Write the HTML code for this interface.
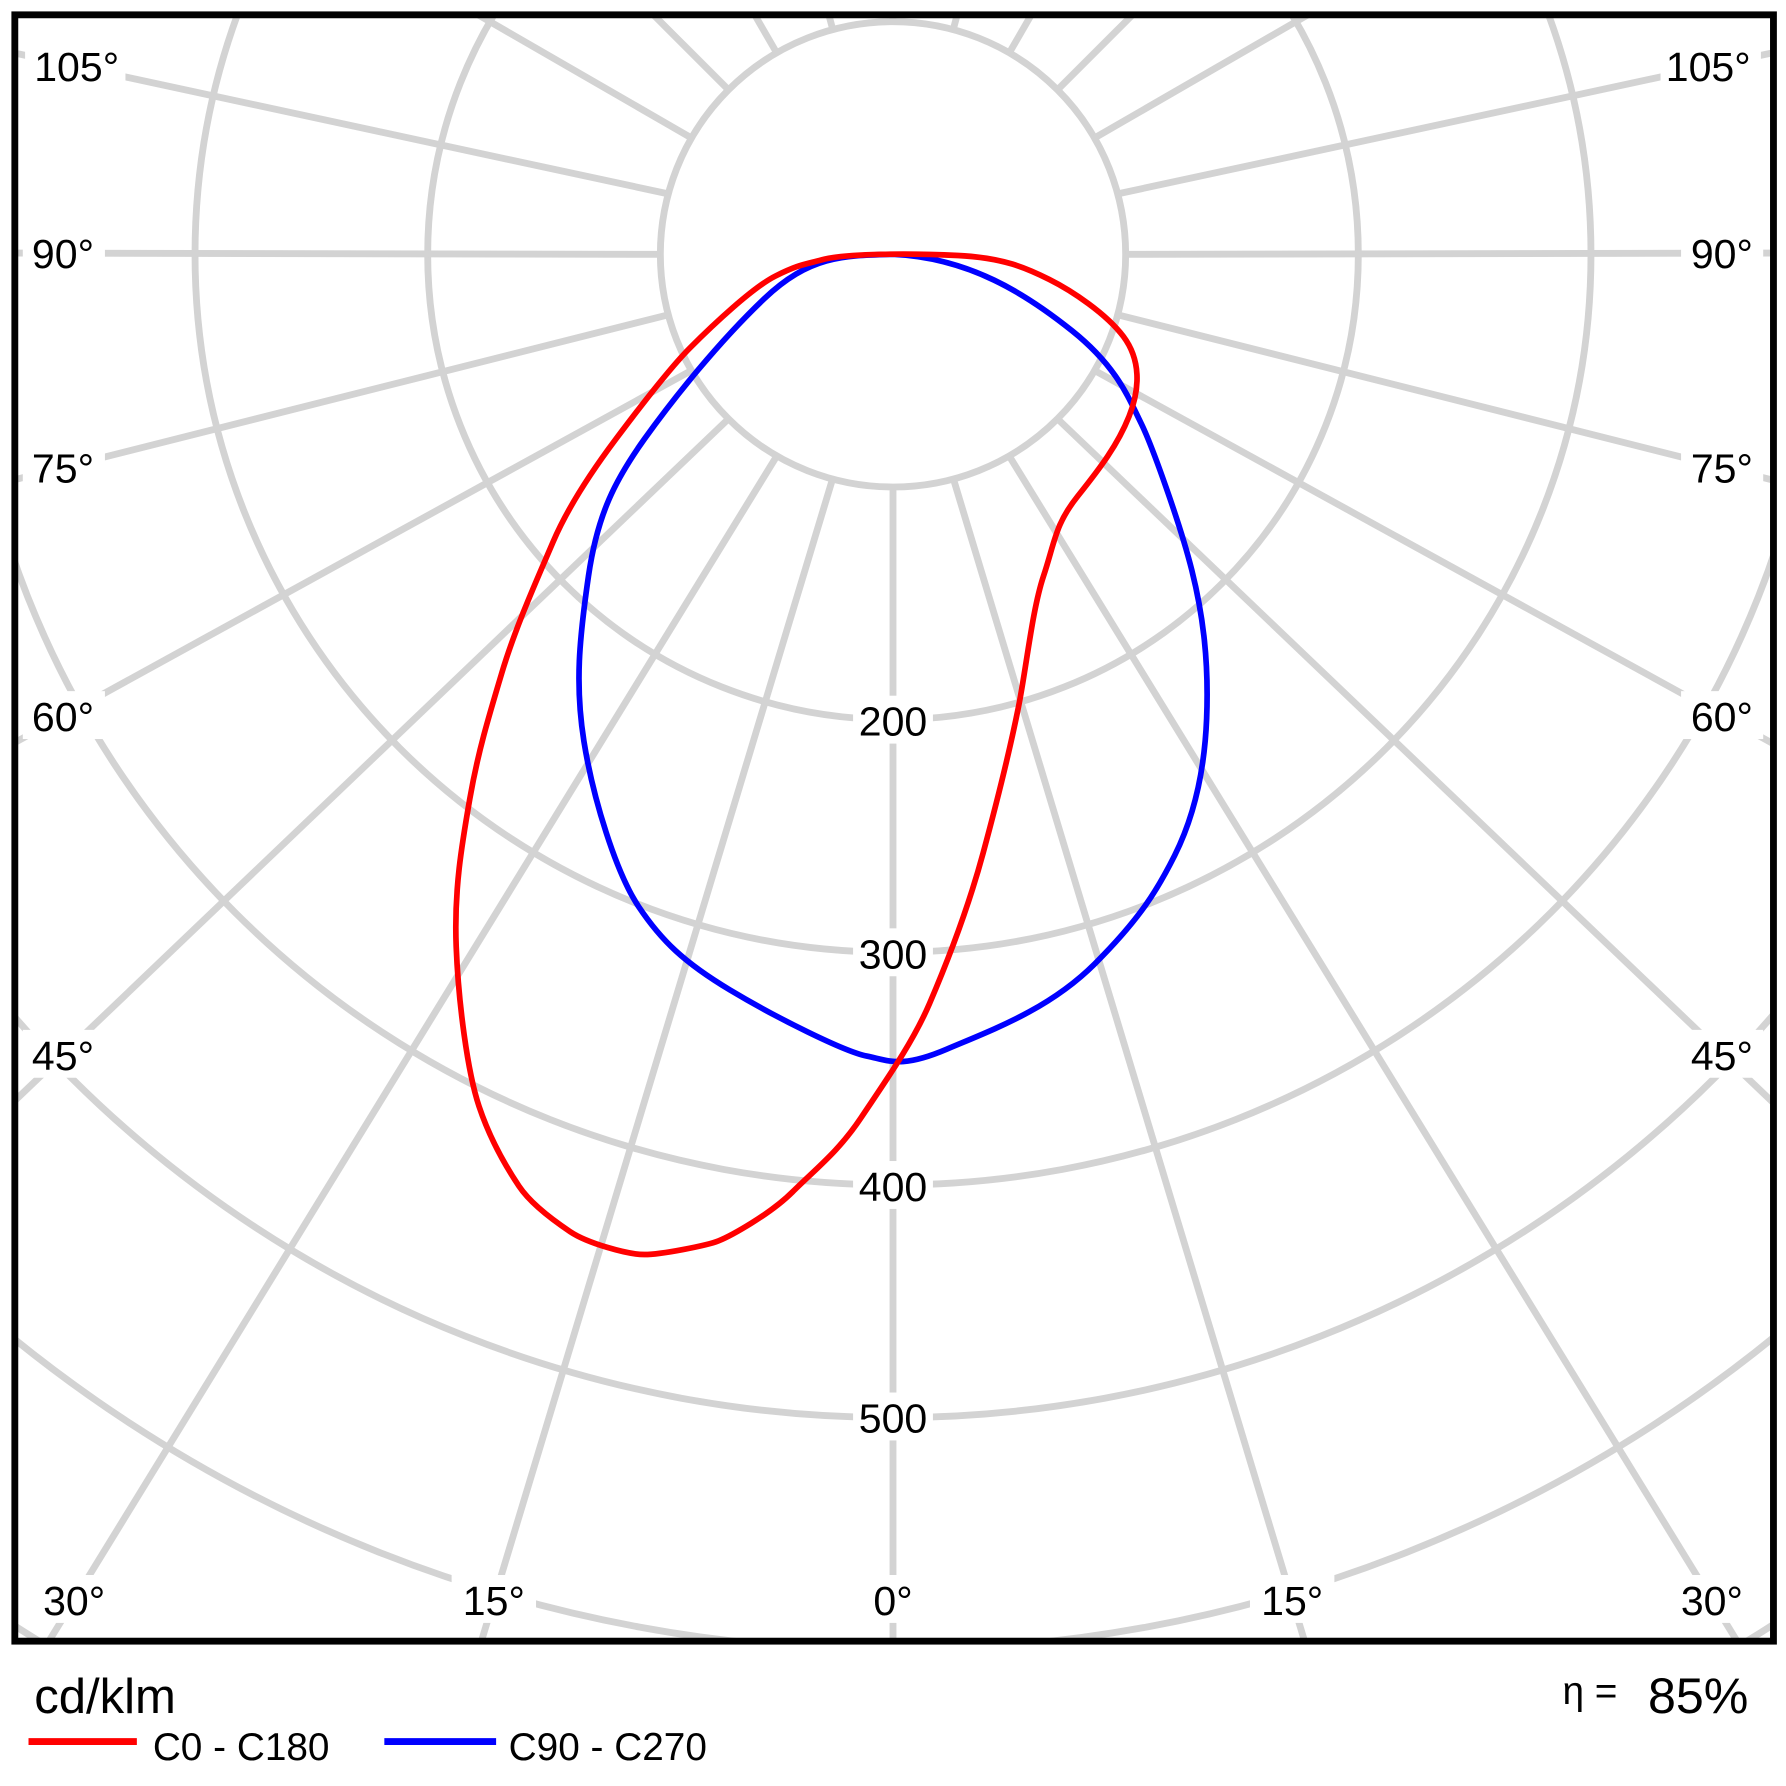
<!DOCTYPE html>
<html><head><meta charset="utf-8"><style>html,body{margin:0;padding:0;background:#fff;overflow:hidden;width:1786px;height:1786px}svg{display:block}</style></head>
<body><svg width="1786" height="1786" viewBox="0 0 1566 1566" xmlns="http://www.w3.org/2000/svg" font-family="'Liberation Sans',sans-serif">
<defs><clipPath id="c"><rect x="13" y="13" width="1542" height="1426"/></clipPath></defs>
<rect width="1566" height="1566" fill="#fff"/>
<g clip-path="url(#c)" stroke="#d3d3d3" stroke-width="6" fill="none">
<circle cx="783" cy="223" r="204"/>
<circle cx="783" cy="223" r="408"/>
<circle cx="783" cy="223" r="612"/>
<circle cx="783" cy="223" r="816"/>
<circle cx="783" cy="223" r="1020"/>
<circle cx="783" cy="223" r="1224"/>
<circle cx="783" cy="223" r="1428"/>
<line x1="783" y1="427" x2="783" y2="2500"/>
<line x1="586" y1="170" x2="-454" y2="-54"/>
<line x1="579" y1="223" x2="-469" y2="221"/>
<line x1="586" y1="276" x2="-476" y2="544"/>
<line x1="606" y1="325" x2="-496" y2="931"/>
<line x1="639" y1="367" x2="-529" y2="1483"/>
<line x1="681" y1="400" x2="-551" y2="2406"/>
<line x1="730" y1="420" x2="136" y2="2386"/>
<line x1="980" y1="170" x2="2020" y2="-54"/>
<line x1="987" y1="223" x2="2035" y2="221"/>
<line x1="980" y1="276" x2="2042" y2="544"/>
<line x1="960" y1="325" x2="2062" y2="931"/>
<line x1="927" y1="367" x2="2095" y2="1483"/>
<line x1="885" y1="400" x2="2117" y2="2406"/>
<line x1="836" y1="420" x2="1430" y2="2386"/>
<line x1="783" y1="427" x2="783" y2="2500" transform="rotate(120 783 223)"/>
<line x1="783" y1="427" x2="783" y2="2500" transform="rotate(135 783 223)"/>
<line x1="783" y1="427" x2="783" y2="2500" transform="rotate(150 783 223)"/>
<line x1="783" y1="427" x2="783" y2="2500" transform="rotate(165 783 223)"/>
<line x1="783" y1="427" x2="783" y2="2500" transform="rotate(180 783 223)"/>
<line x1="783" y1="427" x2="783" y2="2500" transform="rotate(-120 783 223)"/>
<line x1="783" y1="427" x2="783" y2="2500" transform="rotate(-135 783 223)"/>
<line x1="783" y1="427" x2="783" y2="2500" transform="rotate(-150 783 223)"/>
<line x1="783" y1="427" x2="783" y2="2500" transform="rotate(-165 783 223)"/>
</g>
<g font-size="36" fill="#000">
<g fill="#fff">
<rect x="22" y="36" width="88" height="42"/><rect x="20" y="200" width="72" height="42"/><rect x="20" y="388" width="72" height="42"/><rect x="20" y="606" width="72" height="42"/><rect x="20" y="903" width="72" height="42"/>
<rect x="1456" y="36" width="88" height="42"/><rect x="1474" y="200" width="72" height="42"/><rect x="1474" y="388" width="72" height="42"/><rect x="1474" y="606" width="72" height="42"/><rect x="1474" y="903" width="72" height="42"/>
<rect x="28" y="1381" width="74" height="42"/><rect x="396" y="1381" width="74" height="42"/><rect x="758" y="1381" width="50" height="42"/><rect x="1096" y="1381" width="74" height="42"/><rect x="1464" y="1381" width="74" height="42"/>
<rect x="748" y="610" width="70" height="42"/><rect x="748" y="814" width="70" height="42"/><rect x="748" y="1018" width="70" height="42"/><rect x="748" y="1221" width="70" height="42"/>
</g>
<text x="30" y="71">105°</text><text x="28" y="235">90°</text><text x="28" y="423">75°</text><text x="28" y="641">60°</text><text x="28" y="938">45°</text>
<text x="1535" y="71" text-anchor="end">105°</text><text x="1537" y="235" text-anchor="end">90°</text><text x="1537" y="423" text-anchor="end">75°</text><text x="1537" y="641" text-anchor="end">60°</text><text x="1537" y="938" text-anchor="end">45°</text>
<text x="65" y="1416" text-anchor="middle">30°</text><text x="433" y="1416" text-anchor="middle">15°</text><text x="783" y="1416" text-anchor="middle">0°</text><text x="1133" y="1416" text-anchor="middle">15°</text><text x="1501" y="1416" text-anchor="middle">30°</text>
<text x="783" y="645" text-anchor="middle">200</text><text x="783" y="849" text-anchor="middle">300</text><text x="783" y="1053" text-anchor="middle">400</text><text x="783" y="1256" text-anchor="middle">500</text>
</g>
<g fill="none" stroke-width="5" stroke-linejoin="round">
<path stroke="#00f" d="M783,223 C850,226 900,258 940,290 S990,350 1000,370 S1035,460 1045,500 S1060,580 1058,630 S1045,720 1030,750 S1000,805 960,845 S870,903 830,920 S780,930 760,926 S680,892 640,868 S580,825 560,795 S520,700 512,650 S508,560 516,505 S540,420 565,385 S630,300 670,262 S740,224 783,223 Z"/>
<path stroke="#f00" d="M720,228 C740,222 800,222 840,224 S900,235 920,245 S970,275 985,295 S1000,340 990,365 S965,410 945,435 S925,475 915,505 S900,585 893,620 S875,700 862,748 S830,845 815,880 S775,950 755,980 S715,1025 695,1045 S640,1084 630,1088 S580,1100 565,1100 S515,1090 500,1080 S465,1055 455,1040 S430,1000 420,970 S402,880 400,830 S405,740 412,700 S428,630 440,590 S470,510 485,475 S525,405 540,385 S585,325 605,305 S660,252 680,242 S705,232 720,228 Z"/>
</g>
<rect x="13" y="13" width="1542" height="1426" fill="none" stroke="#000" stroke-width="6"/>
<text x="30" y="1502" font-size="43">cd/klm</text>
<line x1="25" y1="1527" x2="120" y2="1527" stroke="#f00" stroke-width="6"/>
<text x="134" y="1543" font-size="34">C0 - C180</text>
<line x1="337" y1="1527" x2="435" y2="1527" stroke="#00f" stroke-width="6"/>
<text x="446" y="1543" font-size="34">C90 - C270</text>
<text x="1370" y="1494" font-size="34">η =</text>
<text x="1533" y="1502" font-size="44" text-anchor="end">85%</text>
</svg></body></html>
